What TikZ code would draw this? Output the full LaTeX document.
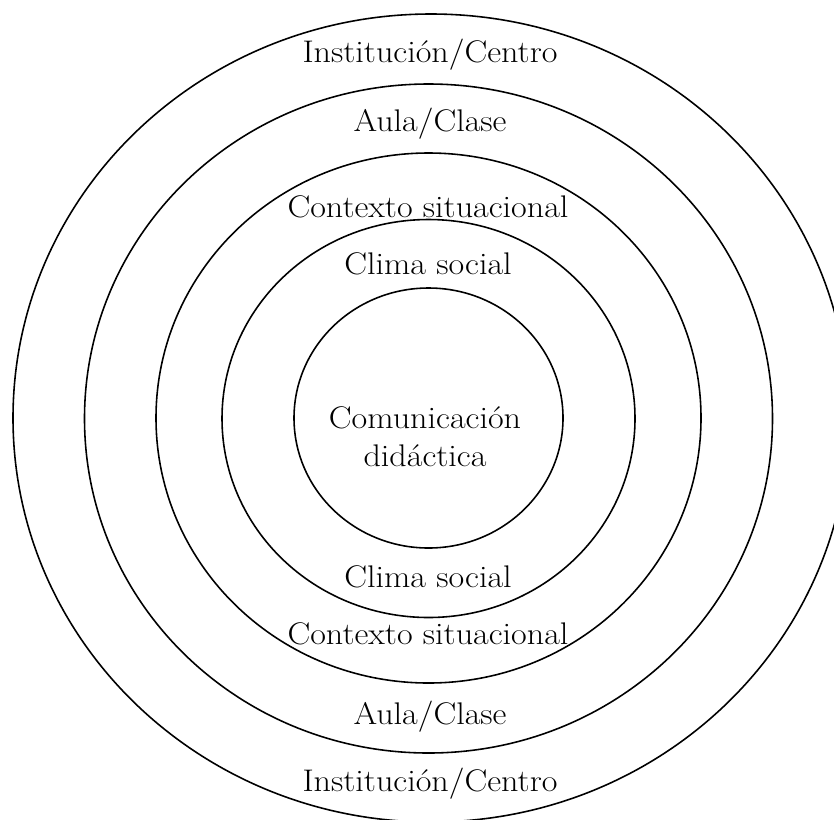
\documentclass[tikz,border=0pt]{standalone}
\usepackage{fontspec}
\setmainfont{Latin Modern Roman}[FakeStretch=1.09]
\usetikzlibrary{positioning}

\begin{document}
\begin{tikzpicture}[x=0.02cm,y=-0.02cm,
  ring/.style={line width=0.9pt},
  lbl/.style={font=\fontsize{17.8}{21.5}\selectfont, inner sep=0pt}]
\useasboundingbox (0,0) rectangle (834,819);
\clip (0,0) rectangle (834,819);

% rings, outside in
\draw[ring] (431,418) ellipse [x radius=418, y radius=404];
\draw[ring] (428.5,418.5) ellipse [x radius=344, y radius=334.5];
\draw[ring] (428.5,418) ellipse [x radius=272.5, y radius=265];
\draw[ring] (428.5,418.5) ellipse [x radius=206.5, y radius=199];
\draw[ring] (428.5,418) ellipse [x radius=134.5, y radius=130];

% upper labels
\node[lbl] (instTop) at (430,55) {Institución/Centro};
\node[lbl] (aulaTop) at (430,124) {Aula/Clase};
\node[lbl] (ctxTop) at (428,207) {Contexto situacional};
\node[lbl] (climaTop) at (428,264) {Clima social};

% centre
\node[lbl, align=center] (com) at (425,437) {Comunicación\\didáctica};

% lower labels
\node[lbl] (climaBot) at (428,577) {Clima social};
\node[lbl] (ctxBot) at (428,634) {Contexto situacional};
\node[lbl] (aulaBot) at (430,717) {Aula/Clase};
\node[lbl] (instBot) at (430,784) {Institución/Centro};
\end{tikzpicture}
\end{document}
